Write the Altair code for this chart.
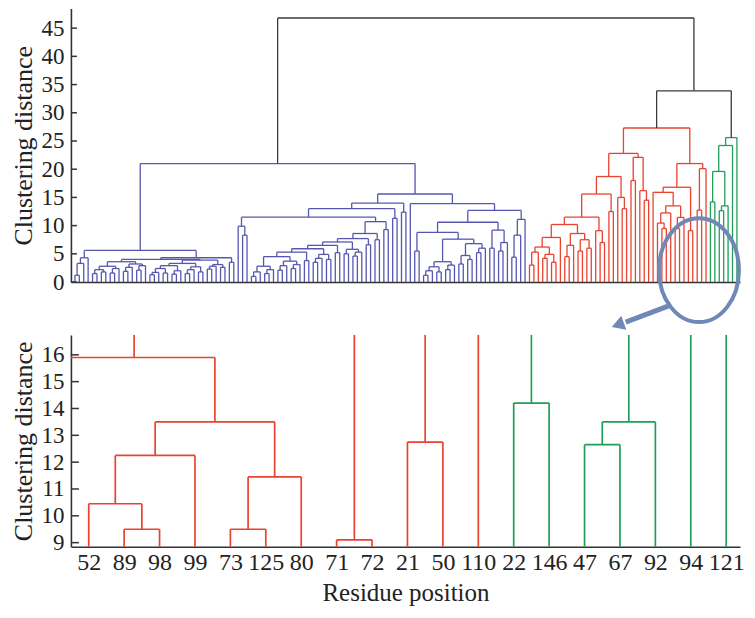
import re
import altair as alt
import pandas as pd

# ---------------- data: dendrogram topology ----------------
# leaf = "x", internal node = "(left,right)height"
BL_A = "((((x,x)1.5,(x,x)1.8)2.2,((x,x)1.6,x)2.4)2.8,(((x,x)1.9,x)2.6,((x,x)2.1,x)2.9)3.2)3.6"
BL_B = "((((((x,x)1.3,x)1.7,(x,x)1.6)2.4,((x,x)1.4,x)2.0)2.9,(((x,x)1.5,x)2.2,(x,x)1.8)2.7)3.3,(((x,x)2.3,x)2.8,(x,x)2.6)3.1)3.9"
BLUE_LEFT = "((((x,x)1.2,x)3.3,x)4.3,((" + BL_A + "," + BL_B + ")4.0,(x,x)3.5)4.3)5.6"

G1 = "(((x,x)1.0,x)1.8,((x,x)1.5,x)2.2)2.8"
G2 = "(((x,x)2.1,x)2.9,((x,x)2.4,x)3.1)3.7"
G3 = "(((x,x)3.5,x)4.2,(x,x)4.0)4.9"
G4 = "((x,x)5.0,((x,x)4.6,x)5.3)5.8"
S1A = "((((((" + G1 + "," + G2 + ")4.5,(x,x)3.8)5.3," + G3 + ")5.9,(x,x)5.2)6.5," + G4 + ")7.1,(x,x)6.6)7.7"
BR_LEFT = "((((x,(x,x)8.3)9.9,((" + S1A + ",(x,x)7.5)8.6,(x,x)9.3)10.7)11.5,(x,x)11.3)13.0,(x,x)12.4)14.0"
X1B = "(((((x,x)1.2,x)2.0,(x,x)1.8)2.7,((x,x)2.2,x)3.0)3.6,(((x,x)3.2,(x,x)4.0)4.7,((x,x)5.2,x)6.0)6.8)7.6"
BR_RIGHT = "(x,((((x,x)5.5," + X1B + ")8.8,((x,x)6.0,((x,x)5.5,x)7.0)9.2)10.6,(((x,x)4.4,x)8.3,x)11.1)12.7)13.9"
BLUE = "(" + BLUE_LEFT + ",(" + BR_LEFT + "," + BR_RIGHT + ")15.6)21.0"

RL_LEFT = "((((x,x)3.0,x)5.3,((x,x)4.2,(x,x)3.5)4.9)6.2,x)7.9"
RL_RIGHT = "(((x,x)4.5,x)6.5,((x,x)5.5,(x,x)6.0)7.5)8.6"
Q1A = "((" + RL_LEFT + "," + RL_RIGHT + ")10.2,(x,(x,x)7.0)9.1)11.5"
RQ = "((" + Q1A + ",(x,x)12.5)15.6,(x,(x,x)13.0)15.0)18.7"
RR = "((x,x)18.0,(x,(x,x)14.5)16.2)22.1"
RED_LEFT = "(" + RQ + "," + RR + ")22.8"
RED_RIGHT = "(((x,(((x,(x,x)9.5)10.45,x)12.25,((x,x)9.5,x)11.45)13.5)15.9,(x,x)9.1)16.8,((x,x)12.75,x)20.1)21.0"
RED = "(" + RED_LEFT + "," + RED_RIGHT + ")27.3"

GREEN = "((((x,x)14.2,((x,x)12.65,x)13.5)19.6,x)24.2,x)25.6"

TOP_LINKS = [33.9, 46.8]          # red+green, then root
TOP_TICKS = [0, 5, 10, 15, 20, 25, 30, 35, 40, 45]
BOTTOM_TICKS = [9, 10, 11, 12, 13, 14, 15, 16]
BOTTOM_LABELS = ["52", "89", "98", "99", "73", "125", "80", "71", "72", "21",
                 "50", "110", "22", "146", "47", "67", "92", "94", "121"]

# annotation (zoom marker) in top-panel data units
ANN_ELLIPSE_X = [141.4]
ANN_ELLIPSE_Y = [2.1]
ANN_ARROW_X = [135.0, 124.8]
ANN_ARROW_Y = [-4.1, -7.1]
ANN_HEAD_X = [123.0]
ANN_HEAD_Y = [-7.6]

COLORS = {"blue": "#5757b0", "red": "#e9432f", "green": "#1f9f5a", "link": "#3b3b3b"}
ANN_COLOR = "#6f88b6"


def parse(s, grp):
    pos = 0

    def node():
        nonlocal pos
        if s[pos] == "x":
            pos += 1
            return None
        pos += 1
        a = node()
        pos += 1
        b = node()
        pos += 1
        m = re.match(r"[0-9.]+", s[pos:])
        pos += len(m.group())
        return {"kids": [a, b], "h": float(m.group()), "c": grp}

    return node()


tree = {"kids": [parse(BLUE, "blue"),
                 {"kids": [parse(RED, "red"), parse(GREEN, "green")], "h": TOP_LINKS[0], "c": "link"}],
        "h": TOP_LINKS[1], "c": "link"}

segs = []
counter = [0]


def lay(n):
    if n is None:
        i = counter[0]
        counter[0] += 1
        return float(i), 0.0
    x1, y1 = lay(n["kids"][0])
    x2, y2 = lay(n["kids"][1])
    h, c = n["h"], n["c"]
    segs.append({"x": x1, "x2": x1, "y": y1, "y2": h, "grp": c})
    segs.append({"x": x1, "x2": x2, "y": h, "y2": h, "grp": c})
    segs.append({"x": x2, "x2": x2, "y": y2, "y2": h, "grp": c})
    return (x1 + x2) / 2, h


lay(tree)
N = counter[0]
df = pd.DataFrame(segs)
first = N - len(BOTTOM_LABELS)

FONT = "Liberation Serif"
color_enc = alt.Color("grp:N", scale=alt.Scale(domain=list(COLORS.keys()), range=list(COLORS.values())), legend=None)

# ---------------- top panel ----------------
xs_top = alt.Scale(domain=[-0.9, N - 0.3], nice=False, zero=False)
ys_top = alt.Scale(domain=[0, 48.5], nice=False, zero=False)
xa_top = alt.Axis(labels=False, ticks=False, title=None, grid=False)
ya_top = alt.Axis(values=TOP_TICKS, ticks=False, grid=False, labelFontSize=23, labelPadding=7,
                  labelOverlap=False, labelFlush=False, title="Clustering distance",
                  titleFontSize=26, titlePadding=4)

top_lines = alt.Chart(df).mark_rule(strokeWidth=1.3).encode(
    x=alt.X("x:Q", scale=xs_top, axis=xa_top),
    x2="x2:Q",
    y=alt.Y("y:Q", scale=ys_top, axis=ya_top),
    y2="y2:Q",
    color=color_enc,
)
top_ticks = alt.Chart(pd.DataFrame({"v": TOP_TICKS})).mark_rule(color="#333", strokeWidth=1.5).encode(
    y=alt.Y("v:Q", scale=ys_top, axis=ya_top), x=alt.value(0), x2=alt.value(6))

ell = alt.Chart(pd.DataFrame({"x": ANN_ELLIPSE_X, "y": ANN_ELLIPSE_Y})).mark_point(
    shape="M-0.77,0A0.77,1,0,1,0,0.77,0A0.77,1,0,1,0,-0.77,0Z",
    size=10816, filled=False, strokeWidth=4, color=ANN_COLOR, opacity=1).encode(
    x=alt.X("x:Q", scale=xs_top, axis=xa_top), y=alt.Y("y:Q", scale=ys_top, axis=ya_top))
arrow = alt.Chart(pd.DataFrame({"x": ANN_ARROW_X, "y": ANN_ARROW_Y})).mark_line(
    strokeWidth=5, color=ANN_COLOR).encode(
    x=alt.X("x:Q", scale=xs_top, axis=xa_top), y=alt.Y("y:Q", scale=ys_top, axis=ya_top))
head = alt.Chart(pd.DataFrame({"x": ANN_HEAD_X, "y": ANN_HEAD_Y})).mark_point(
    shape="triangle-left", size=220, filled=True, color=ANN_COLOR, opacity=1, angle=340).encode(
    x=alt.X("x:Q", scale=xs_top, axis=xa_top), y=alt.Y("y:Q", scale=ys_top, axis=ya_top))

top = alt.layer(top_lines, top_ticks, ell, arrow, head).properties(width=670, height=274)

# ---------------- bottom (zoomed) panel ----------------
xs_bot = alt.Scale(domain=[first - 0.503, first + 18.39], nice=False, zero=False)
ys_bot = alt.Scale(domain=[8.85, 16.74], nice=False, zero=False)
label_expr = "[" + ",".join("'" + l + "'" for l in BOTTOM_LABELS) + "][datum.value - " + str(first) + "]"
xa_bot = alt.Axis(values=list(range(first, N)), labelExpr=label_expr, ticks=False, grid=False,
                  labelFontSize=24, labelPadding=4, labelFlush=False, labelOverlap=False,
                  title="Residue position", titleFontSize=25, titlePadding=6)
ya_bot = alt.Axis(values=BOTTOM_TICKS, ticks=False, grid=False, labelFontSize=23, labelPadding=7,
                  labelOverlap=False, labelFlush=False, title="Clustering distance",
                  titleFontSize=26, titlePadding=4)

bot_lines = alt.Chart(df).mark_rule(strokeWidth=1.7, clip=True).encode(
    x=alt.X("x:Q", scale=xs_bot, axis=xa_bot),
    x2="x2:Q",
    y=alt.Y("y:Q", scale=ys_bot, axis=ya_bot),
    y2="y2:Q",
    color=color_enc,
)
bot_ticks = alt.Chart(pd.DataFrame({"v": BOTTOM_TICKS})).mark_rule(color="#333", strokeWidth=1.5).encode(
    y=alt.Y("v:Q", scale=ys_bot, axis=ya_bot), x=alt.value(0), x2=alt.value(8))

bottom = alt.layer(bot_lines, bot_ticks).properties(width=670, height=212)

chart = alt.vconcat(top, bottom, spacing=53, bounds="flush").configure_view(stroke=None).configure_axis(
    labelFont=FONT, titleFont=FONT, labelColor="#222", titleColor="#222",
    titleFontWeight="normal", domainColor="#333", domainWidth=1.6,
).properties(background="white", padding={"left": 3, "top": 0, "right": 0, "bottom": 0})

chart.save("out.html", embed_options={"renderer": "svg", "actions": False})
